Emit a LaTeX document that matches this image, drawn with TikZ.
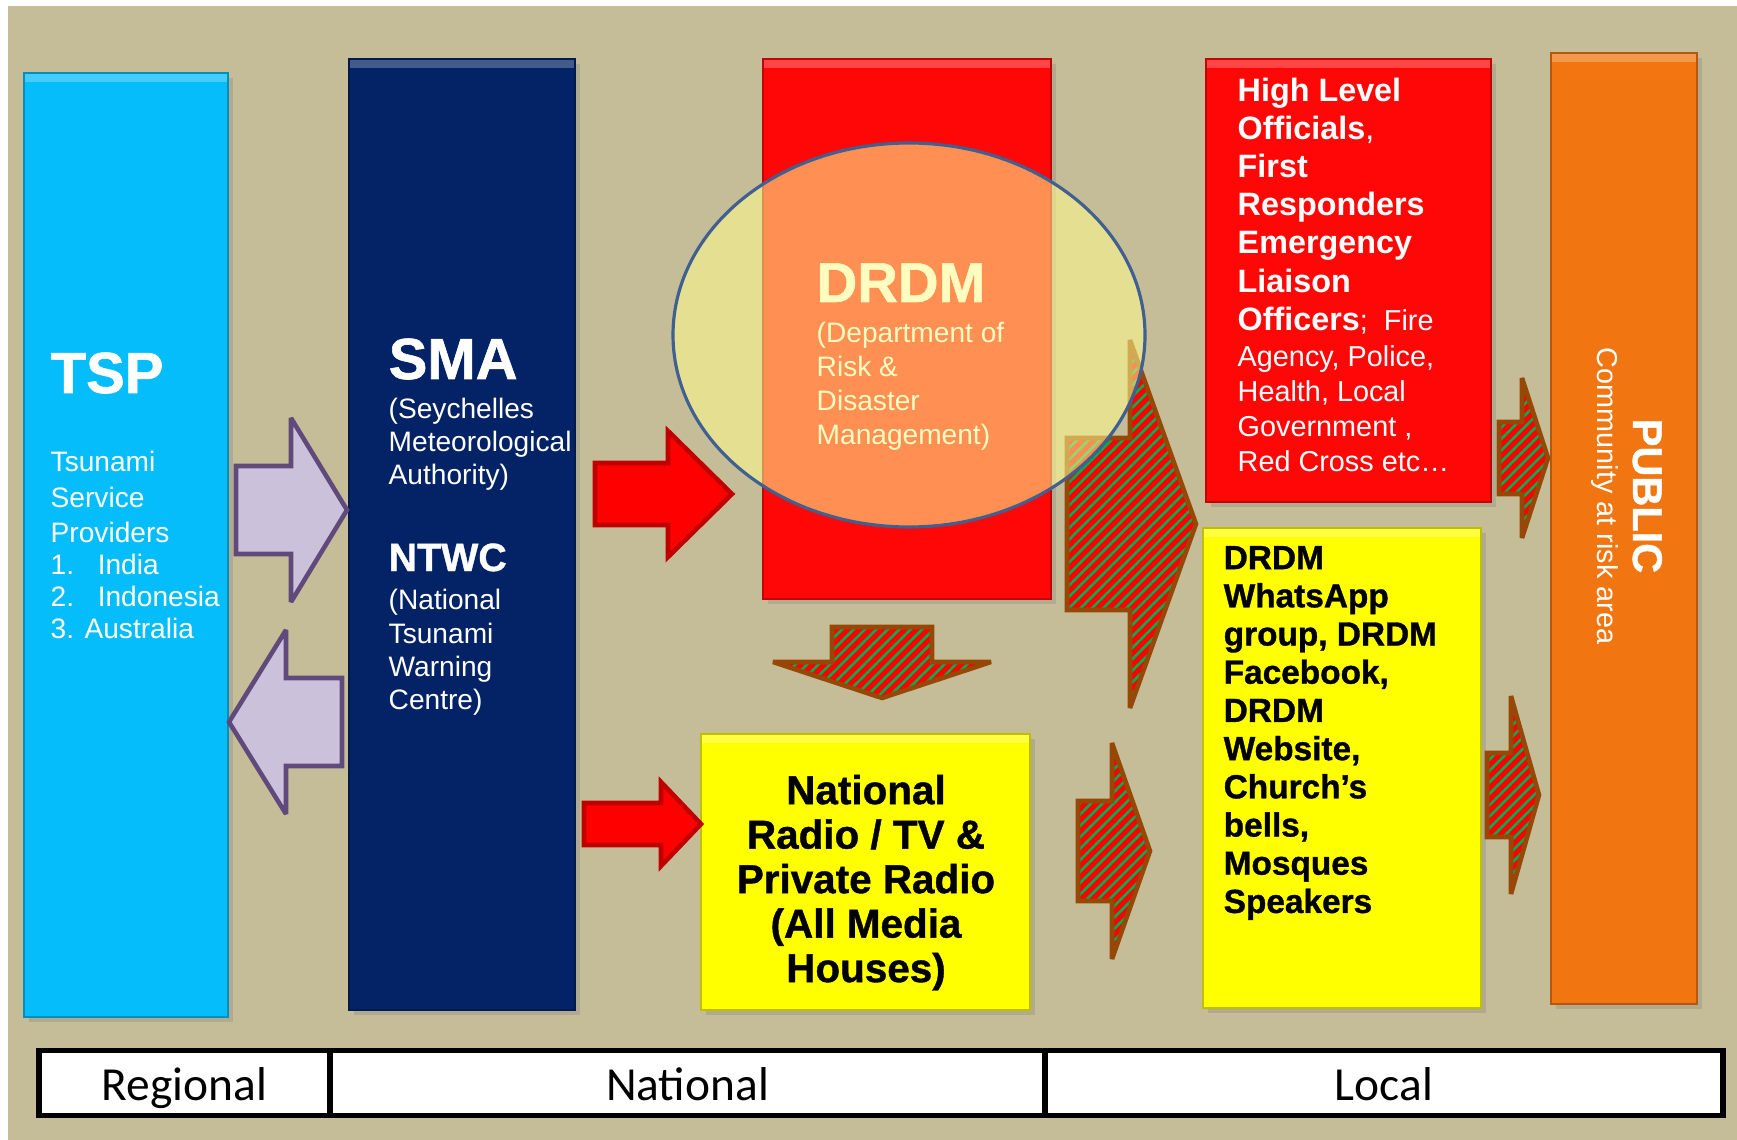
\documentclass[tikz,border=0pt]{standalone}
\usepackage{fontspec}
\setmainfont{Liberation Sans}
\newfontfamily\heavyfont{Liberation Sans Bold}[FakeBold=1]
\newfontfamily\tablefont{Carlito}
\usetikzlibrary{positioning,shapes.geometric,shadows,patterns.meta}

\definecolor{sand}{HTML}{C5BD98}
\definecolor{tspblue}{HTML}{05BDFA}
\definecolor{smanavy}{HTML}{042366}
\definecolor{alarmred}{HTML}{FF0707}
\definecolor{mediayellow}{HTML}{FFFF00}
\definecolor{publicorange}{HTML}{F17611}
\definecolor{lavfill}{HTML}{CCC1DA}
\definecolor{lavline}{HTML}{604A7B}
\definecolor{arrowred}{HTML}{C00000}
\definecolor{stripegreen}{HTML}{00B050}
\definecolor{rust}{HTML}{974706}
\definecolor{ringfill}{HTML}{FFFA8F}
\definecolor{ringline}{HTML}{3F6090}

\newcommand\tallrule{\rule{0pt}{1em}}
% block arrows: style, tail, neck, tip, middle, half shaft, half head
\newcommand\hblock[7]{\draw[#1] (#2,#5-#6) -- (#3,#5-#6) -- (#3,#5-#7) -- (#4,#5)
  -- (#3,#5+#7) -- (#3,#5+#6) -- (#2,#5+#6) -- cycle;}
\newcommand\vblock[7]{\draw[#1] (#5-#6,#2) -- (#5-#6,#3) -- (#5-#7,#3) -- (#5,#4)
  -- (#5+#7,#3) -- (#5+#6,#3) -- (#5+#6,#2) -- cycle;}

\tikzset{
  panel/.style={draw=#1!75!black, fill=#1, line width=0.5pt, inner sep=0pt,
    drop shadow={shadow xshift=1.5pt, shadow yshift=-1.5pt, opacity=0.3},
    path picture={\fill[white, opacity=0.25] (path picture bounding box.north west)
      rectangle ([yshift=-2.5pt]path picture bounding box.north east);}},
  boxtext/.style={text=white, inner sep=0pt, align=left},
  lavarrow/.style={fill=lavfill, draw=lavline, line width=1.3pt, miter limit=3},
  redarrow/.style={fill=red, draw=arrowred, line width=1.3pt, miter limit=3},
  stripearrow/.style={preaction={fill=red},
    pattern={Lines[angle=45, distance=2.3pt, line width=0.75pt]},
    pattern color=stripegreen, draw=rust, line width=1.3pt, miter limit=3},
  cell/.style={draw=black, fill=white, line width=1.5pt, minimum height=6.5mm,
    inner sep=0pt, outer sep=0pt, text height=9.7pt, text depth=0pt,
    font=\tablefont\fontsize{13.5}{16}\selectfont}
}

\begin{document}
\begin{tikzpicture}[x=0.1mm, y=-0.1mm]
  \useasboundingbox (0,0) rectangle (1737,1140);
  \fill[sand] (8,6) rectangle (1737,1140);

  % columns
  \node[panel=tspblue, minimum width=20.4mm, minimum height=94.4mm] (tsp) at (126,545) {};
  \node[panel=smanavy, minimum width=22.6mm, minimum height=95.1mm] (sma) at (462,534.5) {};
  \node[panel=alarmred, minimum width=28.8mm, minimum height=54mm] (drdm) at (907,329) {};
  \node[panel=alarmred, minimum width=28.5mm, minimum height=44.3mm] (officials) at (1348.5,280.5) {};
  \node[panel=mediayellow, minimum width=27.8mm, minimum height=48mm] (whatsapp) at (1342,768) {};
  \node[panel=mediayellow, minimum width=32.9mm, minimum height=27.6mm] (radio) at (865.5,872) {};
  \node[panel=publicorange, minimum width=14.6mm, minimum height=95.1mm] (public) at (1624,528.5) {};

  % texts
  \node[boxtext, anchor=base west, font=\heavyfont\fontsize{16.5}{19}\selectfont] (tsptitle) at (50,393) {TSP};
  \node[boxtext, anchor=north west, font=\fontsize{8}{10.1}\selectfont] (tspbody) at (50,443)
    {\tallrule Tsunami\\Service\\Providers\\[-1pt]\makebox[13.4pt][l]{1.}India\\[-1pt]%
     \makebox[13.4pt][l]{2.}Indonesia\\[-1pt]3. Australia};
  \node[boxtext, anchor=base west, font=\heavyfont\fontsize{16.5}{19}\selectfont] (smatitle) at (388,379) {SMA};
  \node[boxtext, anchor=north west, font=\fontsize{8}{9.4}\selectfont] (smabody) at (388,390)
    {\tallrule(Seychelles\\Meteorological\\Authority)};
  \node[boxtext, anchor=base west, font=\heavyfont\fontsize{11.2}{13}\selectfont] (ntwctitle) at (388,571) {NTWC};
  \node[boxtext, anchor=north west, font=\fontsize{8}{9.5}\selectfont] (ntwcbody) at (388,581)
    {\tallrule(National\\Tsunami\\Warning\\Centre)};
  \node[boxtext, anchor=base west, font=\heavyfont\fontsize{16}{19}\selectfont] (drdmtitle) at (816,302) {DRDM};
  \node[boxtext, anchor=north west, font=\fontsize{8}{9.6}\selectfont] (drdmbody) at (816,314)
    {\tallrule(Department of\\Risk \&\\Disaster\\Management)};
  \node[boxtext, anchor=north west, font=\bfseries\fontsize{9.2}{10.87}\selectfont] (offhead) at (1237,68)
    {\tallrule High Level\\Officials{\mdseries,}\\First\\Responders\\Emergency\\Liaison\\%
     Officers{\mdseries\fontsize{8.2}{10.87}\selectfont;\ \ Fire}};
  \node[boxtext, anchor=north west, font=\fontsize{8.2}{9.96}\selectfont] (offbody) at (1237,337)
    {\tallrule Agency, Police,\\Health, Local\\Government ,\\Red Cross etc…};
  \node[boxtext, text=black, anchor=north west, font=\heavyfont\fontsize{9.5}{10.87}\selectfont] (mediatext) at (1223,535)
    {\tallrule DRDM\\WhatsApp\\group, DRDM\\Facebook,\\DRDM\\Website,\\Church’s\\bells,\\Mosques\\Speakers};
  \node[boxtext, text=black, align=center, anchor=north, font=\heavyfont\fontsize{11.5}{12.66}\selectfont] (radiotext) at (866,763)
    {\tallrule National\\Radio / TV \&\\Private Radio\\(All Media\\Houses)};
  \node[boxtext, rotate=-90, anchor=base, font=\heavyfont\fontsize{11.8}{14}\selectfont] (publictitle) at (1633,496) {PUBLIC};
  \node[boxtext, rotate=-90, anchor=base, font=\fontsize{8.2}{10}\selectfont] (publicsub) at (1597,496) {Community at risk area};

  % arrows
  \hblock{lavarrow}{236}{291}{347}{510}{44}{92}
  \hblock{lavarrow}{342}{286}{229}{722}{44}{92}
  \hblock{redarrow}{595}{668}{732}{494}{31}{63}
  \hblock{redarrow}{584}{661}{701}{824}{21}{42}
  \vblock{stripearrow}{627}{662}{698}{882}{50}{109}
  \foreach \ta/\nk/\tp/\yc/\sh/\hd in {1067/1130/1196/524/86/184, 1078/1112/1150/851/50/108,
      1499/1522/1548/458/36/80, 1487/1511/1539/795/42/99}
    {\hblock{stripearrow}{\ta}{\nk}{\tp}{\yc}{\sh}{\hd}}

  \node[ellipse, draw=ringline, line width=0.9pt, fill=ringfill, fill opacity=0.56,
    minimum width=47.2mm, minimum height=38.4mm, inner sep=0pt] (drdmring) at (909,335) {};

  % scale
  \node[cell, minimum width=29.1mm] (regional) at (184.5,1083) {Regional};
  \node[cell, minimum width=71.5mm, right=0pt of regional] (national) {National};
  \node[cell, minimum width=67.8mm, right=0pt of national] (local) {Local};
\end{tikzpicture}
\end{document}
